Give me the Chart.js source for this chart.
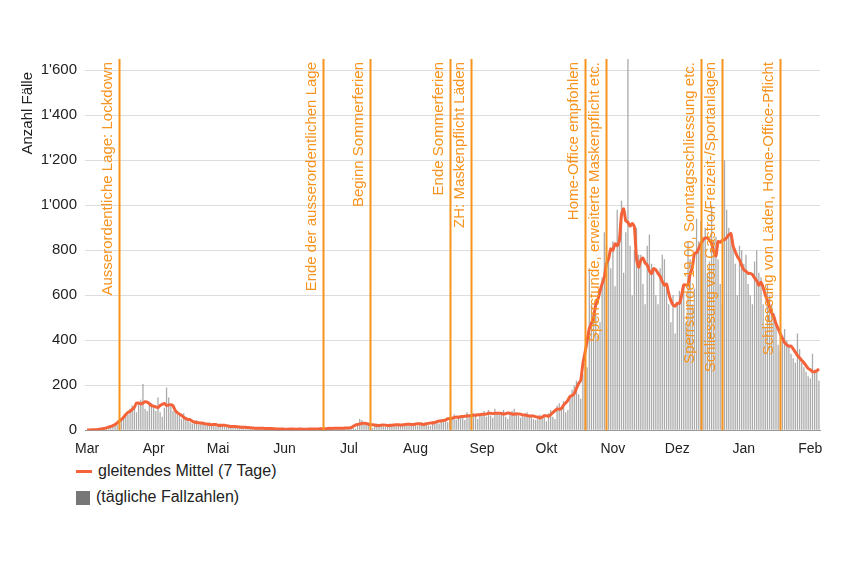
<!DOCTYPE html>
<html>
<head>
<meta charset="utf-8">
<script src="https://cdn.jsdelivr.net/npm/chart.js@4"></script>
<style>
  body { margin:0; background:#fff; font-family:"Liberation Sans", Arial, sans-serif; }
  #wrap { position:absolute; left:0; top:0; width:850px; height:461px; }
  .leg { position:absolute; left:76px; font-size:16px; color:#222; }
  .leg span { display:inline-block; vertical-align:middle; margin-right:6px; }
</style>
</head>
<body>
<div id="wrap"><canvas id="c"></canvas></div>
<div class="leg" style="top:462px"><span style="width:16px;height:3px;background:#f4623a"></span>gleitendes Mittel (7 Tage)</div>
<div class="leg" style="top:488px"><span style="width:14px;height:14px;background:#777"></span>(tägliche Fallzahlen)</div>
<script>
// daily cases, Mar 2020 .. early Feb 2021
var mar = [0,1,0,2,3,4,3,5,8,10,12,15,18,30,25,35,45,60,75,70,95,110,100,80,120,135,205,95,85,125,120];
var apr = [110,85,145,80,60,100,190,145,110,85,95,70,65,50,75,60,45,35,30,40,45,25,35,30,25,22,35,25,22,18];
var may = [25,30,20,15,20,25,18,15,12,10,14,20,15,12,10,8,9,12,10,8,7,6,9,10,8,6,5,7,6,5,4];
var jun = [5,6,4,3,5,7,6,4,3,5,6,4,3,5,8,6,4,5,7,6,8,5,10,12,9,6,8,10,7,9];
var jul = [10,15,12,8,20,50,45,30,25,35,15,10,25,30,28,20,18,15,22,30,25,20,18,22,28,30,25,22,20,30,32];
var aug = [28,20,25,35,30,28,22,20,40,38,45,30,50,45,40,35,60,55,70,48,65,60,55,45,80,70,60,75,65,50,70];
var sep = [75,85,60,90,65,55,95,80,70,75,90,60,50,80,85,95,70,65,55,60,75,80,65,70,50,45,60,70,55,60];
var okt = [40,75,90,60,50,110,120,100,130,80,90,150,180,200,220,160,140,250,300,280,720,560,530,520,420,480,680,880,820,760,720];
var nov = [840,640,980,840,1020,700,880,1650,820,600,800,900,780,780,650,560,820,870,740,720,600,560,720,780,760,650,560,480,600,430];
var dez = [560,620,610,650,480,840,760,560,630,940,840,930,860,900,700,750,1000,840,860,760,650,560,1200,980,900,880,820,740,600,820,800];
var jan = [740,780,650,600,560,750,800,700,680,560,460,650,600,560,520,480,380,350,420,450,400,380,340,320,300,430,360,300,280,260,240];
var feb = [230,340,270,260,220];

var monthLabels = ['Mar','Apr','Mai','Jun','Jul','Aug','Sep','Okt','Nov','Dez','Jan','Feb'];
var monthStart = [0,31,61,92,122,153,184,214,245,275,306,337];
var yTicks = [0,200,400,600,800,1000,1200,1400,1600];

var eventDays = [15,110,132,169,179,232,242,286,296,323];
var eventTexts = ['Ausserordentliche Lage: Lockdown','Ende der ausserordentlichen Lage','Beginn Sommerferien',
  'Ende Sommerferien','ZH: Maskenpflicht Läden','Home-Office empfohlen','Sperrstunde, erweiterte Maskenpflicht etc.',
  'Sperrstunde 19.00, Sonntagsschliessung etc.','Schliessung von Gastro/Freizeit-/Sportanlagen',
  'Schliessung von Läden, Home-Office-Pflicht'];

var daily = [].concat(mar,apr,may,jun,jul,aug,sep,okt,nov,dez,jan,feb);
var bars = daily.map(function(v,i){ return {x:i, y:v}; });
// 7 day mean around each day
var avg = daily.map(function(v,i){
  var s = daily.slice(Math.max(0,i-3), i+4);
  return {x:i, y: s.reduce(function(a,b){return a+b;},0)/s.length};
});

function fmt(v){ return String(v).replace(/\B(?=(\d{3})+(?!\d))/g, "'"); }

var eventPlugin = {
  id:'events',
  afterDatasetsDraw: function(chart){
    var ctx = chart.ctx, xs = chart.scales.x, a = chart.chartArea;
    ctx.save();
    ctx.strokeStyle = '#f7931e'; ctx.fillStyle = '#f7931e'; ctx.lineWidth = 2;
    ctx.font = '15px "Liberation Sans", Arial, sans-serif';
    eventDays.forEach(function(d,i){
      var x = Math.round(xs.getPixelForValue(d)) + 0.5;
      ctx.beginPath(); ctx.moveTo(x, a.top); ctx.lineTo(x, a.bottom); ctx.stroke();
      ctx.save();
      ctx.translate(x - 4, 62); ctx.rotate(-Math.PI/2);
      ctx.textAlign = 'right'; ctx.textBaseline = 'bottom';
      ctx.fillText(eventTexts[i], 0, 0);
      ctx.restore();
    });
    // axis title, vertical
    ctx.fillStyle = '#222'; ctx.font = '15px "Liberation Sans", Arial, sans-serif';
    ctx.translate(28, 72); ctx.rotate(-Math.PI/2);
    ctx.textAlign = 'right'; ctx.textBaseline = 'middle';
    ctx.fillText('Anzahl Fälle', 0, 0);
    ctx.restore();
  }
};

new Chart(document.getElementById('c'), {
  type:'bar',
  data:{ datasets:[
    { type:'line', label:'gleitendes Mittel (7 Tage)', data:avg, borderColor:'#f4623a', borderWidth:3,
      pointRadius:0, tension:0.2, fill:false, order:0 },
    { label:'(tägliche Fallzahlen)', data:bars, backgroundColor:'#aaaaaa', barPercentage:0.6,
      categoryPercentage:1, order:1 }
  ]},
  options:{
    responsive:true, maintainAspectRatio:false, animation:false,
    layout:{ padding:{ top:59, right:30, left:0, bottom:0 } },
    plugins:{ legend:{display:false}, tooltip:{enabled:false} },
    scales:{
      x:{ type:'linear', min:-1, max:341.5, offset:false,
        grid:{ display:false, drawTicks:true },
        border:{ color:'#999' },
        afterBuildTicks:function(s){ s.ticks = monthStart.map(function(v){return {value:v};}); },
        ticks:{ autoSkip:false, maxRotation:0, color:'#222', font:{size:14},
          callback:function(v){ return monthLabels[monthStart.indexOf(v)]; } } },
      y:{ min:0, max:1650,
        afterFit:function(s){ s.width = 85; },
        afterBuildTicks:function(s){ s.ticks = yTicks.map(function(v){ return {value:v}; }); },
        grid:{ color:'#dddddd', drawTicks:false },
        border:{ display:false },
        ticks:{ autoSkip:false, color:'#222', font:{size:15}, padding:8, callback:function(v){ return fmt(v); } } }
    }
  },
  plugins:[eventPlugin]
});
</script>
</body>
</html>
